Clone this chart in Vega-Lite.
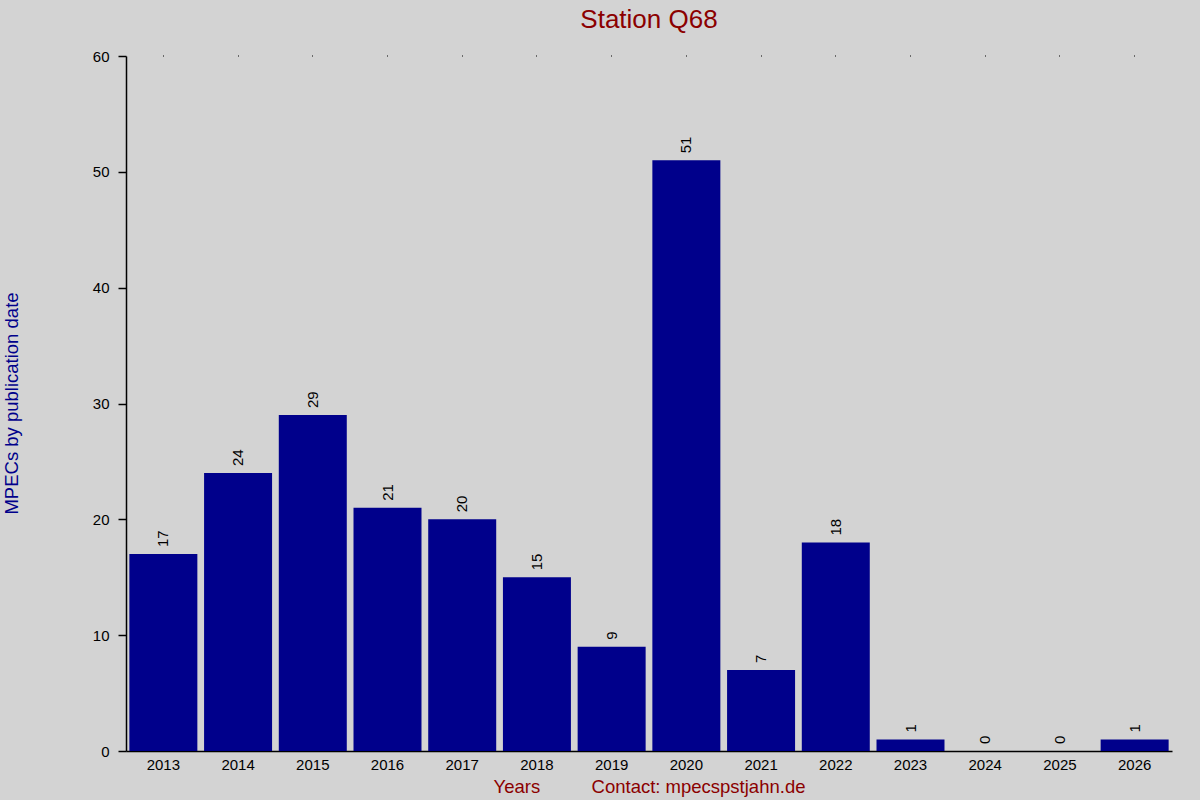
{
  "$schema": "https://vega.github.io/schema/vega-lite/v6.json",
  "autosize": {"type": "none"},
  "width": 1046,
  "height": 695,
  "padding": {"left": 126, "top": 56, "right": 28, "bottom": 49},
  "background": "#d3d3d3",
  "config": {
    "view": {"stroke": null},
    "font": "Liberation Sans",
    "axis": {"labelFont": "Liberation Sans", "titleFont": "Liberation Sans"}
  },
  "title": {
    "text": "Station Q68",
    "color": "#8b0000",
    "fontSize": 26,
    "fontWeight": "normal",
    "font": "Liberation Sans",
    "anchor": "middle",
    "frame": "group",
    "baseline": "alphabetic",
    "offset": -5
  },
  "data": {
    "values": [
      {"year": "2013", "count": 17},
      {"year": "2014", "count": 24},
      {"year": "2015", "count": 29},
      {"year": "2016", "count": 21},
      {"year": "2017", "count": 20},
      {"year": "2018", "count": 15},
      {"year": "2019", "count": 9},
      {"year": "2020", "count": 51},
      {"year": "2021", "count": 7},
      {"year": "2022", "count": 18},
      {"year": "2023", "count": 1},
      {"year": "2024", "count": 0},
      {"year": "2025", "count": 0},
      {"year": "2026", "count": 1}
    ]
  },
  "resolve": {"axis": {"x": "independent"}},
  "layer": [
    {
      "mark": {"type": "bar", "color": "#00008b"},
      "encoding": {
        "x": {
          "field": "year",
          "type": "ordinal",
          "scale": {"paddingInner": 0.09, "paddingOuter": 0.045},
          "axis": {
            "orient": "bottom",
            "labelAngle": 0,
            "labelFontSize": 15,
            "labelColor": "black",
            "labelPadding": 6,
            "ticks": false,
            "domainColor": "black",
            "domainWidth": 1.5,
            "title": "Years\u00a0\u00a0\u00a0\u00a0\u00a0\u00a0\u00a0\u00a0\u00a0\u00a0Contact: mpecspstjahn.de",
            "titleColor": "#8b0000",
            "titleFontSize": 18.5,
            "titleFontWeight": "normal",
            "titleX": 523,
            "titleY": 35,
            "titleBaseline": "middle",
            "titleAlign": "center"
          }
        },
        "y": {
          "field": "count",
          "type": "quantitative",
          "scale": {"domain": [0, 60], "nice": false},
          "axis": {
            "values": [0, 10, 20, 30, 40, 50, 60],
            "grid": false,
            "labelFontSize": 15,
            "labelColor": "black",
            "tickColor": "black",
            "tickSize": 8,
            "tickWidth": 1.5,
            "domainColor": "black",
            "domainWidth": 1.5,
            "labelPadding": 9,
            "title": "MPECs by publication date",
            "titleColor": "#00008b",
            "titleFontSize": 18.5,
            "titleFontWeight": "normal",
            "titleAngle": -90,
            "titleX": -115,
            "titleY": 347,
            "titleAlign": "center",
            "titleBaseline": "middle"
          }
        }
      }
    },
    {
      "mark": {"type": "text", "angle": 270, "align": "left", "baseline": "middle", "dx": 7, "fontSize": 15, "color": "black", "font": "Liberation Sans"},
      "encoding": {
        "x": {
          "field": "year",
          "type": "ordinal",
          "axis": {
            "orient": "top",
            "labels": false,
            "domain": false,
            "ticks": true,
            "tickSize": 1,
            "tickColor": "black",
            "title": null
          }
        },
        "y": {"field": "count", "type": "quantitative"},
        "text": {"field": "count", "type": "quantitative"}
      }
    }
  ]
}
